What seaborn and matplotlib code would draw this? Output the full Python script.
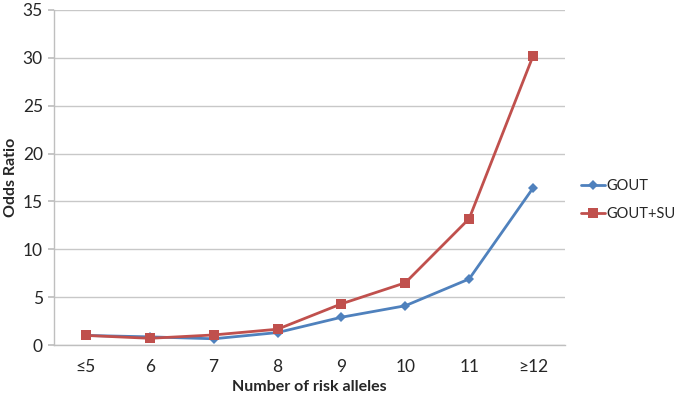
import matplotlib
matplotlib.use("Agg")
import matplotlib.pyplot as plt
import seaborn as sns
import pandas as pd

categories = ["≤5", "6", "7", "8", "9", "10", "11", "≥12"]
gout = [1.0, 0.85, 0.65, 1.3, 2.9, 4.1, 6.9, 16.4]
gout_su = [1.0, 0.7, 1.05, 1.65, 4.3, 6.5, 13.2, 30.2]
y_ticks = [0, 5, 10, 15, 20, 25, 30, 35]

df = pd.DataFrame({
    "alleles": categories * 2,
    "OR": gout + gout_su,
    "series": ["GOUT"] * len(categories) + ["GOUT+SU"] * len(categories),
})

sns.set_theme(style="white")
plt.rcParams['font.family'] = ['Lato', 'DejaVu Sans']

fig = plt.figure(figsize=(6.75, 4), dpi=100)
ax = fig.add_axes([0.08, 0.1375, 0.757, 0.8375])

palette = {"GOUT": "#4F81BD", "GOUT+SU": "#C0504D"}
markers = {"GOUT": "D", "GOUT+SU": "s"}
sizes = {"GOUT": 5, "GOUT+SU": 7}
for s in ["GOUT", "GOUT+SU"]:
    sub = df[df["series"] == s]
    sns.lineplot(data=sub, x="alleles", y="OR", color=palette[s], marker=markers[s],
                 markersize=sizes[s], markeredgewidth=0, linewidth=2, label=s, ax=ax, sort=False)

ax.set_xlim(-0.5, len(categories) - 0.5)
ax.set_ylim(0, 35)
ax.set_yticks(y_ticks)
ax.yaxis.grid(True, color="#c8c8c8", linewidth=1)
ax.set_axisbelow(True)
for side in ["top", "right"]:
    ax.spines[side].set_visible(False)
for side in ["left", "bottom"]:
    ax.spines[side].set_color("#bfbfbf")
    ax.spines[side].set_linewidth(1)
ax.tick_params(axis="y", length=4, color="#bfbfbf", labelsize=12.5, pad=4, direction="out", left=True)
ax.tick_params(axis="x", length=0, labelsize=12.5, pad=10)
ax.set_xlabel("Number of risk alleles", fontsize=11.5, fontweight="bold", labelpad=4)
ax.set_ylabel("Odds Ratio", fontsize=11.5, fontweight="bold", labelpad=3)

handles, labels = ax.get_legend_handles_labels()
ax.get_legend().remove()
fig.legend(handles, labels, loc="center left", bbox_to_anchor=(0.861, 0.5), frameon=False,
           fontsize=10.5, handlelength=1.6, handletextpad=0.1, labelspacing=0.95,
           borderaxespad=0, borderpad=0)

fig.savefig("out.png", dpi=100)
